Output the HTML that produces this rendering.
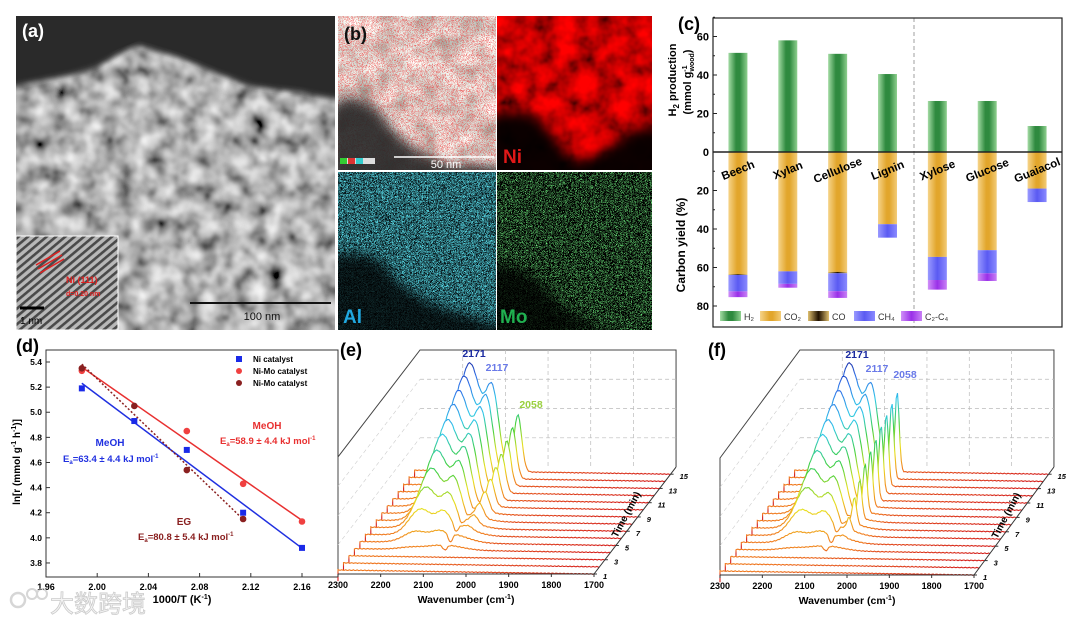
<!DOCTYPE html>
<html><head><meta charset="utf-8"><style>
html,body{margin:0;padding:0;background:#fff;}
svg{display:block;font-family:"Liberation Sans","Noto Sans CJK SC",sans-serif;}
</style></head><body>
<svg id="fig" width="1080" height="622" viewBox="0 0 1080 622" xmlns="http://www.w3.org/2000/svg">
<defs>
 <filter id="fa" x="0" y="0" width="1" height="1"><feTurbulence type="fractalNoise" baseFrequency="0.06" numOctaves="3" seed="3"/><feGaussianBlur stdDeviation="1.6"/><feColorMatrix type="matrix" values="1.3 0 0 0 -0.2  1.3 0 0 0 -0.2  1.3 0 0 0 -0.2  0 0 0 0 1"/></filter>
 <filter id="blur6"><feGaussianBlur stdDeviation="6"/></filter>
 <filter id="blur3"><feGaussianBlur stdDeviation="3"/></filter>
 <filter id="fgrey" x="0" y="0" width="1" height="1"><feTurbulence type="fractalNoise" baseFrequency="0.05" numOctaves="2" seed="8"/><feColorMatrix type="matrix" values="1.0 0 0 0 0.22  1.0 0 0 0 0.25  1.0 0 0 0 0.2  0 0 0 0 1"/></filter>
 <filter id="spRed" x="0" y="0" width="1" height="1"><feTurbulence type="turbulence" baseFrequency="1.2" numOctaves="1" seed="2"/><feColorMatrix type="matrix" values="0 0 0 0 0.85  0 0 0 0 0.05  0 0 0 0 0.05  6 0 0 0 -1.0"/></filter>
 <filter id="spCyan" x="0" y="0" width="1" height="1"><feTurbulence type="turbulence" baseFrequency="1.2" numOctaves="1" seed="5"/><feColorMatrix type="matrix" values="0 0 0 0 0.1  0 0 0 0 0.72  0 0 0 0 0.82  6 0 0 0 -0.6"/></filter>
 <filter id="spGreen" x="0" y="0" width="1" height="1"><feTurbulence type="turbulence" baseFrequency="1.2" numOctaves="1" seed="9"/><feColorMatrix type="matrix" values="0 0 0 0 0.15  0 0 0 0 0.8  0 0 0 0 0.2  6 0 0 0 -1.0"/></filter>
 <filter id="fRed" x="0" y="0" width="1" height="1"><feTurbulence type="fractalNoise" baseFrequency="0.05" numOctaves="3" seed="4"/><feColorMatrix type="matrix" values="1.6 0 0 0 -0.2  0 0 0 0 0  0 0 0 0 0  0 0 0 0 1"/></filter>
 <pattern id="lattice" width="6" height="6" patternUnits="userSpaceOnUse" patternTransform="rotate(-40)"><rect width="6" height="6" fill="#b8b8b8"/><rect width="6" height="2.6" fill="#4a4a4a"/></pattern>
 <linearGradient id="gGreen" x1="0" x2="1" y1="0" y2="0"><stop offset="0" stop-color="#a5dca5"/><stop offset="0.4" stop-color="#2f8a3f"/><stop offset="0.6" stop-color="#2f8a3f"/><stop offset="1" stop-color="#8fd08f"/></linearGradient>
 <linearGradient id="gOrange" x1="0" x2="1" y1="0" y2="0"><stop offset="0" stop-color="#f6d48a"/><stop offset="0.45" stop-color="#e2a62c"/><stop offset="0.6" stop-color="#e2a62c"/><stop offset="1" stop-color="#f3cc78"/></linearGradient>
 <linearGradient id="gCO" x1="0" x2="1" y1="0" y2="0"><stop offset="0" stop-color="#e0c070"/><stop offset="0.5" stop-color="#201000"/><stop offset="1" stop-color="#e0c070"/></linearGradient>
 <linearGradient id="gBlue" x1="0" x2="1" y1="0" y2="0"><stop offset="0" stop-color="#9a9aff"/><stop offset="0.5" stop-color="#5a5af2"/><stop offset="1" stop-color="#8a8aff"/></linearGradient>
 <linearGradient id="gPurple" x1="0" x2="1" y1="0" y2="0"><stop offset="0" stop-color="#d090f8"/><stop offset="0.5" stop-color="#9a30e8"/><stop offset="1" stop-color="#c880f5"/></linearGradient>
 <clipPath id="clipA"><rect x="16" y="16" width="319" height="314"/></clipPath>
</defs>

<!-- Panel a -->
<g clip-path="url(#clipA)">
 <rect x="16" y="16" width="319" height="314" filter="url(#fa)"/>
 <path d="M0,0 H345 V100 L330,98 316,96 300,92 280,90 262,88 249,86 235,80 220,75 200,66 180,58 160,52 140,46 125,50 110,60 95,68 75,74 55,78 35,82 16,86 0,88 Z" fill="#2a2a2a" filter="url(#blur3)"/>
 <path d="M0,0 H345 V92 L300,86 260,80 220,68 180,52 140,40 110,52 70,68 30,76 0,80 Z" fill="#2a2a2a"/>
</g>
<text x="22" y="37" font-size="18" font-weight="bold" fill="#fff">(a)</text>
<g>
 <rect x="16" y="236" width="102" height="94" fill="url(#lattice)" stroke="#fff" stroke-width="1"/>
 <line x1="36" y1="265" x2="60" y2="251" stroke="#e02020" stroke-width="1.5"/>
 <line x1="38" y1="269" x2="62" y2="255" stroke="#e02020" stroke-width="1.5"/>
 <line x1="40" y1="273" x2="64" y2="259" stroke="#e02020" stroke-width="1.5"/>
 <text x="66" y="283" font-size="9" font-weight="bold" fill="#e02020">Ni (111)</text>
 <text x="66" y="296" font-size="7" font-weight="bold" fill="#e02020">d=0.20 nm</text>
 <line x1="20" y1="308" x2="44" y2="308" stroke="#000" stroke-width="3"/>
 <text x="20" y="324" font-size="10" fill="#000">1 nm</text>
</g>
<line x1="190" y1="303" x2="331" y2="303" stroke="#111" stroke-width="2"/>
<text x="262" y="320" font-size="11" text-anchor="middle" fill="#111">100 nm</text>

<!-- Panel b -->
<g>
 <svg x="338" y="16" width="158" height="154">
  <rect width="158" height="154" filter="url(#fgrey)"/>
  <rect width="158" height="154" filter="url(#spRed)" opacity="0.85"/>
  <path d="M-10,90 L10,80 30,86 45,100 60,120 80,135 100,145 120,150 140,148 170,152 170,170 -10,170 Z" fill="#262626" filter="url(#blur6)" opacity="0.9"/>
 </svg>
 <rect x="340" y="158" width="35" height="6" fill="#ddd"/><rect x="340" y="158" width="7" height="6" fill="#3c3"/><rect x="348" y="158" width="7" height="6" fill="#d33"/><rect x="356" y="158" width="7" height="6" fill="#3cc"/>
 <line x1="394" y1="157" x2="494" y2="157" stroke="#fff" stroke-width="1.5"/>
 <text x="446" y="168" font-size="11" fill="#fff" text-anchor="middle">50 nm</text>
 <svg x="497" y="16" width="155" height="154">
  <rect width="155" height="154" filter="url(#fRed)"/>
  <path d="M-10,100 L15,95 40,100 60,125 75,145 100,140 120,125 140,112 170,110 170,170 -10,170 Z" fill="#000" filter="url(#blur6)" opacity="0.95"/>
 </svg>
 <svg x="338" y="172" width="158" height="158">
  <rect width="158" height="158" fill="#07161a"/>
  <rect width="158" height="158" filter="url(#spCyan)"/>
  <path d="M-10,85 L20,80 45,90 60,110 90,130 120,140 150,150 170,155 170,170 -10,170 Z" fill="#000" filter="url(#blur6)" opacity="0.8"/>
 </svg>
 <svg x="497" y="172" width="155" height="158">
  <rect width="155" height="158" fill="#000"/>
  <rect width="155" height="158" filter="url(#spGreen)"/>
  <path d="M-10,90 L20,95 45,110 60,130 90,150 120,160 -10,170 Z" fill="#000" filter="url(#blur6)" opacity="0.8"/>
 </svg>
</g>
<text x="344" y="40" font-size="18" font-weight="bold" fill="#111">(b)</text>
<text x="503" y="163" font-size="19" font-weight="bold" fill="#e01818">Ni</text>
<text x="343" y="323" font-size="19" font-weight="bold" fill="#20a8e0">Al</text>
<text x="500" y="323" font-size="19" font-weight="bold" fill="#20b050">Mo</text>

<g id="panelC"></g>
<g id="panelD"></g>
<g id="panelE"></g>
<g id="panelF"></g>

<g opacity="0.6">
 <circle cx="18" cy="600" r="7" fill="none" stroke="#bbb" stroke-width="2.5"/>
 <circle cx="32" cy="594" r="5" fill="none" stroke="#bbb" stroke-width="2"/>
 <circle cx="42" cy="594" r="5" fill="none" stroke="#bbb" stroke-width="2"/>
 <text x="50" y="612" font-size="24" fill="#eee" stroke="#aaa" stroke-width="0.8">大数跨境</text>
</g>

<script>
// ---------- Panel c data ----------
const cCats = ['Beech','Xylan','Cellulose','Lignin','Xylose','Glucose','Guaiacol'];
const cH2 = [51.5, 58, 51, 40.5, 26.5, 26.5, 13.5];
const cCO2 = [63.5, 62, 62.3, 37.5, 54.5, 51, 19];
const cCO = [0.4, 0, 0.7, 0, 0, 0, 0];
const cCH4 = [8.5, 6.5, 9.3, 7, 12, 12, 7];
const cC2C4 = [3, 2, 3.5, 0, 5, 4, 0];
const cTopTicks = [0, 20, 40, 60];
const cBotTicks = [20, 40, 60, 80];

// ---------- Panel d data ----------
const dNiX = [1.988, 2.029, 2.070, 2.114, 2.160];
const dNiY = [5.19, 4.93, 4.70, 4.20, 3.92];
const dMoX = [1.988, 2.070, 2.114, 2.160];
const dMoY = [5.33, 4.85, 4.43, 4.13];
const dEgX = [1.988, 2.029, 2.070, 2.114];
const dEgY = [5.35, 5.05, 4.54, 4.15];
const dXTicks = [1.96, 2.00, 2.04, 2.08, 2.12, 2.16];
const dYTicks = [3.8, 4.0, 4.2, 4.4, 4.6, 4.8, 5.0, 5.2, 5.4];

// ---------- Panels e/f data (peak heights per time, 1..15 min) ----------
const times = [1,2,3,4,5,6,7,8,9,10,11,12,13,14,15];
const wTicks = [2300, 2200, 2100, 2000, 1900, 1800, 1700];
const e2171 = [0,0,0,2,10,25,40,52,63,72,80,88,95,102,108];
const e2117 = [0,0,0,0,4,14,24,33,41,48,54,59,64,68,72];
const e2058 = [0,0,0,0,0,3,8,14,20,27,33,39,45,51,57];
const eBroad = [0,0,0,5,9,10,8,6,4,2,0,0,0,0,0];
const eDip = [0,0,0,5,9,8,6,4,3,2,1,0,0,0,0];
const f2171 = [0,0,0,2,10,25,40,52,63,72,80,88,95,102,108];
const f2117 = [0,0,0,0,4,14,24,33,41,48,54,59,64,68,72];
const f2058 = [0,0,0,0,2,12,26,38,48,56,62,68,72,76,80];
const fBroad = [0,0,0,5,9,10,8,6,4,2,0,0,0,0,0];
const fDip = [0,0,0,5,9,8,6,4,3,2,1,0,0,0,0];

const NS = 'http://www.w3.org/2000/svg';
const svg = document.getElementById('fig');
const defs = svg.querySelector('defs');
function mk(tag, attrs, parent){ const e=document.createElementNS(NS,tag); for(const k in attrs) e.setAttribute(k,attrs[k]); (parent||svg).appendChild(e); return e; }
function txt(parent, x, y, s, size, attrs){ const t=mk('text', Object.assign({x:x,y:y,'font-size':size}, attrs||{}), parent); t.textContent=s; return t; }
function rich(parent, x, y, size, attrs, parts){
  const t = mk('text', Object.assign({x:x,y:y,'font-size':size}, attrs||{}), parent);
  parts.forEach(p=>{ const ts=document.createElementNS(NS,'tspan'); if(p[1]) ts.setAttribute('dy',p[1]); if(p[2]) ts.setAttribute('font-size',p[2]); if(p[3]) ts.setAttribute('dx',p[3]); ts.textContent=p[0]; t.appendChild(ts); });
  return t;
}

// ================= Panel C =================
(function(){
  const g = document.getElementById('panelC');
  const L=713, R=1062, T=18, B=327, Z=152, k=1.925;
  const yT = v => Z - v*k, yB = v => Z + v*k;
  const band = (R-L)/cCats.length, bw = 19;
  const xc = i => L + (i+0.5)*band;
  cCats.forEach((c,i)=>{
    const x = xc(i)-bw/2;
    let r = mk('rect',{x:x,y:yT(cH2[i]),width:bw,height:cH2[i]*k,fill:'url(#gGreen)'},g);
    
    
    let acc = 0;
    const segs = [[cCO2,'url(#gOrange)','co2'],[cCO,'url(#gCO)','co'],[cCH4,'url(#gBlue)','ch4'],[cC2C4,'url(#gPurple)','c2c4']];
    segs.forEach(s=>{
      const v = s[0][i];
      if(v>0){
        const rr = mk('rect',{x:x,y:yB(acc),width:bw,height:v*k,fill:s[1]},g);
        
        
      }
      acc += v;
    });
    const lab = txt(g, xc(i), 174, c, 11.5, {'font-weight':'bold','text-anchor':'middle',transform:'rotate(-22 '+xc(i)+' 170)'});
    
    
  });
  mk('line',{x1:914,y1:T,x2:914,y2:B,stroke:'#888','stroke-dasharray':'4,3','stroke-width':0.8},g);
  mk('rect',{x:L,y:T,width:R-L,height:B-T,fill:'none',stroke:'#222','stroke-width':1.2},g);
  mk('line',{x1:L,y1:Z,x2:R,y2:Z,stroke:'#222','stroke-width':1.5},g);
  cTopTicks.forEach(v=>{ mk('line',{x1:L,y1:yT(v),x2:L+4,y2:yT(v),stroke:'#222'},g); txt(g,L-4,yT(v)+4,String(v),11,{'font-weight':'bold','text-anchor':'end'}); mk('line',{x1:L,y1:yT(v+10),x2:L+2,y2:yT(v+10),stroke:'#222'},g);});
  cBotTicks.forEach(v=>{ mk('line',{x1:L,y1:yB(v),x2:L+4,y2:yB(v),stroke:'#222'},g); txt(g,L-4,yB(v)+4,String(v),11,{'font-weight':'bold','text-anchor':'end'}); mk('line',{x1:L,y1:yB(v-10),x2:L+2,y2:yB(v-10),stroke:'#222'},g);});
  const yl1 = rich(g,0,0,11,{'font-weight':'bold','text-anchor':'middle',transform:'translate(676 80) rotate(-90)'},[['H'],['2',3,8],[' production',-3]]);
  
  
  const yl2 = rich(g,0,0,11,{'font-weight':'bold','text-anchor':'middle',transform:'translate(691 82) rotate(-90)'},[['(mmol g'],['-1',-4,7],['wood',7,7,-6],[')',-3]]);
  
  
  const yl3 = txt(g,0,0,'Carbon yield (%)',12,{'font-weight':'bold','text-anchor':'middle',transform:'translate(685 245) rotate(-90)'});
  
  
  txt(g,678,30,'(c)',18,{'font-weight':'bold'});
  const leg = [['url(#gGreen)','H₂',720],['url(#gOrange)','CO₂',760],['url(#gCO)','CO',808],['url(#gBlue)','CH₄',854],['url(#gPurple)','C₂-C₄',901]];
  leg.forEach(l=>{
    const sw = mk('rect',{x:l[2],y:311,width:21,height:10,fill:l[0]},g);
    
    
    txt(g,l[2]+24,320,l[1],9,{fill:'#333'});
  });
})();

// ================= Panel D =================
(function(){
  const g = document.getElementById('panelD');
  const L=46, R=338, T=350, B=577;
  const X = v => L + (v-1.96)*1280, Y = v => 362 + (5.4-v)*125.6;
  function fit(xs,ys){ const n=xs.length; const mx=xs.reduce((a,b)=>a+b)/n, my=ys.reduce((a,b)=>a+b)/n; let sxy=0,sxx=0; xs.forEach((x,i)=>{sxy+=(x-mx)*(ys[i]-my); sxx+=(x-mx)*(x-mx);}); const b=sxy/sxx; return [b, my-b*mx]; }
  function fline(xs,ys,col,dash,name){ const f=fit(xs,ys); const a=Math.min(...xs), b=Math.max(...xs); const l=mk('line',{x1:X(a),y1:Y(f[1]+f[0]*a),x2:X(b),y2:Y(f[1]+f[0]*b),stroke:col,'stroke-width':1.5},g); if(dash) l.setAttribute('stroke-dasharray',dash);
    
     }
  mk('rect',{x:L,y:T,width:R-L,height:B-T,fill:'none',stroke:'#333','stroke-width':1},g);
  fline(dNiX,dNiY,'#2030e0',null,'ni-fit-line');
  fline(dMoX,dMoY,'#e83030',null,'nimo-meoh-fit-line');
  fline(dEgX,dEgY,'#8a2020','2,2','nimo-eg-fit-line');
  dNiX.forEach((x,i)=>{ const m=mk('rect',{x:X(x)-3,y:Y(dNiY[i])-3,width:6,height:6,fill:'#1a2ae8'},g);
    
     });
  dMoX.forEach((x,i)=>{ const m=mk('circle',{cx:X(x),cy:Y(dMoY[i]),r:3.3,fill:'#f04040'},g);
    
     });
  dEgX.forEach((x,i)=>{ const m=mk('circle',{cx:X(x),cy:Y(dEgY[i]),r:3.3,fill:'#8a2020'},g);
    
     });
  dXTicks.forEach(v=>{ mk('line',{x1:X(v),y1:B,x2:X(v),y2:B-4,stroke:'#333'},g); txt(g,X(v),590,v.toFixed(2),9,{'font-weight':'bold','text-anchor':'middle'}); });
  dYTicks.forEach(v=>{ mk('line',{x1:L,y1:Y(v),x2:L+4,y2:Y(v),stroke:'#333'},g); txt(g,L-4,Y(v)+3,v.toFixed(1),8.5,{'font-weight':'bold','text-anchor':'end'}); });
  const xt = rich(g,182,603,11,{'font-weight':'bold','text-anchor':'middle'},[['1000/T (K'],['-1',-4,7],[')',4]]);
  
  
  const yt = rich(g,0,0,10,{'font-weight':'bold','text-anchor':'middle',transform:'translate(20 462) rotate(-90)'},[['ln[r (mmol g'],['-1',-4,7],[' h',4],['-1',-4,7],[')]',4]]);
  
  
  txt(g,16,352,'(d)',18,{'font-weight':'bold'});
  const lg=[['rect','#1a2ae8','Ni catalyst',359],['circle','#f04040','Ni-Mo catalyst',371],['circle','#8a2020','Ni-Mo catalyst',383]];
  lg.forEach(l=>{ if(l[0]==='rect') mk('rect',{x:236,y:l[3]-3,width:6,height:6,fill:l[1]},g); else mk('circle',{cx:239,cy:l[3],r:3,fill:l[1]},g);
    const t=txt(g,253,l[3]+3,l[2],8,{'font-weight':'bold'});
    
     });
  txt(g,110,446,'MeOH',10,{'font-weight':'bold','fill':'#2030e0','text-anchor':'middle'});
  rich(g,63,462,9.5,{'font-weight':'bold',fill:'#2030e0'},[['E'],['a',2,6],['=63.4 ± 4.4 kJ mol',-2],['-1',-4,6]]);
  txt(g,267,429,'MeOH',10,{'font-weight':'bold','fill':'#e83030','text-anchor':'middle'});
  rich(g,220,444,9.5,{'font-weight':'bold',fill:'#e83030'},[['E'],['a',2,6],['=58.9 ± 4.4 kJ mol',-2],['-1',-4,6]]);
  txt(g,184,525,'EG',10,{'font-weight':'bold','fill':'#8a2020','text-anchor':'middle'});
  rich(g,138,540,9.5,{'font-weight':'bold',fill:'#8a2020'},[['E'],['a',2,6],['=80.8 ± 5.4 kJ mol',-2],['-1',-4,6]]);
})();

// ================= Panels E/F =================
function gauss(w,c,s){ return Math.exp(-((w-c)*(w-c))/(2*s*s)); }
function drawSpectra(gid, cfg, A, B2, C, Br, Dp, lab, peakLabels){
  const g = document.getElementById(gid);
  const x0=cfg.x0, y0=cfg.y0, W=cfg.W, dx=cfg.dx, dy=cfg.dy, n=times.length;
  const bx = x0+n*dx, by = y0-n*dy, top=350;
  const X = (w,i) => x0 + i*dx + (2300-w)*W/600;
  const Yb = i => y0 - i*dy;
  const fy = top + (y0-by);
  mk('path',{d:`M${x0},${y0} V${fy} L${bx},${top} H${bx+W} V${by}`,fill:'none',stroke:'#444','stroke-width':1},g);
  wTicks.slice(1,-1).forEach(w=>{ const xx = bx+(2300-w)*W/600; mk('line',{x1:xx,y1:top,x2:xx,y2:by,stroke:'#bbb','stroke-dasharray':'4,3','stroke-width':0.7},g); });
  [1,2,3].forEach(j=>{ const yy=top+j*(by-top)/4; mk('line',{x1:bx,y1:yy,x2:bx+W,y2:yy,stroke:'#bbb','stroke-dasharray':'4,3','stroke-width':0.7},g); mk('line',{x1:x0,y1:yy+(y0-by),x2:bx,y2:yy,stroke:'#ccc','stroke-dasharray':'4,3','stroke-width':0.6},g); });
  for(let i=n-1;i>=0;i--){
    const base = Yb(i);
    const gr = mk('linearGradient',{id:gid+'g'+i,gradientUnits:'userSpaceOnUse',x1:0,y1:base,x2:0,y2:base-115},defs);
    [[0,'#d41e1e'],[0.03,'#f07a20'],[0.12,'#f0a020'],[0.25,'#e8e020'],[0.45,'#40d040'],[0.65,'#30c8e8'],[0.85,'#3070e8'],[1,'#1a28a0']].forEach(s=>mk('stop',{offset:s[0],'stop-color':s[1]},gr));
    let pts=[];
    for(let w=2300; w>=1700; w-=3){
      const h = A[i]*gauss(w,2171,27) + B2[i]*gauss(w,2117,15) + C[i]*gauss(w,2058,cfg.s58) + Br[i]*gauss(w,2090,40) - Dp[i]*gauss(w,2088,5) + (w-1700)/600*4 + Math.sin(w*0.7+i)*0.4;
      pts.push([X(w,i), base-h]);
    }
    const d = 'M'+X(2300,i)+','+(base+dy)+' L'+pts.map(p=>p[0].toFixed(1)+','+p[1].toFixed(1)).join(' L');
    mk('path',{d:d+` L${X(1700,i)},${base+dy} Z`,fill:'#fff',stroke:'none'},g);
    const line = mk('path',{d:d,fill:'none',stroke:'url(#'+gid+'g'+i+')','stroke-width':1.1},g);
    
    
  }
  mk('line',{x1:x0,y1:y0,x2:x0+W,y2:y0,stroke:'#333'},g);
  mk('line',{x1:x0+W,y1:y0,x2:bx+W,y2:by,stroke:'#333'},g);
  wTicks.forEach(w=>{ const xx=X(w,0); mk('line',{x1:xx,y1:y0,x2:xx,y2:y0+3,stroke:'#333'},g); const t=txt(g,xx,y0+14,String(w),9,{'font-weight':'bold','text-anchor':'middle'});
    
     });
  times.forEach((t,i)=>{ if(t%2===1){ const xx=X(1700,i)+9, yy=Yb(i)+5; mk('line',{x1:X(1700,i),y1:Yb(i),x2:X(1700,i)+3,y2:Yb(i),stroke:'#333'},g); txt(g,xx,yy,String(t),7.5,{'font-style':'italic','font-weight':'bold'}); } });
  const tl = txt(g,0,0,'Time (min)',10,{'font-weight':'bold','text-anchor':'middle',transform:`translate(${x0+W+35} ${y0-58}) rotate(-62)`});
  
  
  const xt = rich(g,x0+W/2,y0+29,10.5,{'font-weight':'bold','text-anchor':'middle'},[['Wavenumber (cm'],['-1',-4,7],[')',4]]);
  
  
  txt(g,lab[1],lab[2],lab[0],18,{'font-weight':'bold'});
  peakLabels.forEach(p=>{ const t=txt(g,p[1],p[2],p[0],10.5,{'font-weight':'bold',fill:p[3],'text-anchor':'middle'});
    
     });
}
drawSpectra('panelE',{x0:338,y0:574,W:256,dx:5.47,dy:7.13,s58:9},e2171,e2117,e2058,eBroad,eDip,['(e)',340,356],
  [['2171',474,357,'#1a2aa0'],['2117',497,371,'#6a7ae8'],['2058',531,408,'#9ad040']]);
drawSpectra('panelF',{x0:720,y0:575,W:254,dx:5.33,dy:7.2,s58:5},f2171,f2117,f2058,fBroad,fDip,['(f)',708,356],
  [['2171',857,358,'#1a2aa0'],['2117',877,372,'#6a7ae8'],['2058',905,378,'#6a7ae8']]);
</script>
</svg>
</body></html>
